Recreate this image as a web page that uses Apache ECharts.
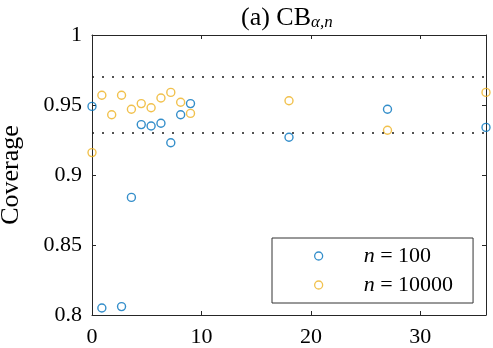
<!DOCTYPE html>
<html>
<head>
<meta charset="utf-8">
<style>
  html, body { margin: 0; padding: 0; background: #fff; }
  #chart { width: 493px; height: 348px; }
</style>
<script src="https://cdn.jsdelivr.net/npm/echarts@6/dist/echarts.min.js"></script>
</head>
<body>
<div id="chart"></div>
<script>
// n = 100
const x100 = [0, 0.9, 2.7, 3.6, 4.5, 5.4, 6.3, 7.2, 8.1, 9, 18, 27, 36];
const cov100 = [0.949, 0.805, 0.806, 0.884, 0.936, 0.935, 0.937, 0.923, 0.943, 0.951, 0.927, 0.947, 0.934];
// n = 10000
const x10000 = [0, 0.9, 1.8, 2.7, 3.6, 4.5, 5.4, 6.3, 7.2, 8.1, 9, 18, 27, 36];
const cov10000 = [0.916, 0.957, 0.943, 0.957, 0.947, 0.951, 0.948, 0.955, 0.959, 0.952, 0.944, 0.953, 0.932, 0.959];
// reference lines
const refLines = [0.97, 0.93];
const seriesNames = ['n = 100', 'n = 10000'];

const FONT = 'Liberation Serif';
const AXIS = '#262626';
const BLUE = '#0072BD';
const ORANGE = '#EDB120';

const zip = (xs, ys) => xs.map((x, i) => [x, ys[i]]);

const chart = echarts.init(document.getElementById('chart'));

const baseX = {
  type: 'value', min: 0, max: 36, interval: 10,
  splitLine: { show: false },
  axisLine: { show: true, onZero: false, lineStyle: { color: AXIS, width: 1 } },
  axisTick: { show: true, inside: true, length: 4, lineStyle: { color: AXIS } }
};
const baseY = {
  type: 'value', min: 0.8, max: 1, interval: 0.05,
  splitLine: { show: false },
  axisLine: { show: true, onZero: false, lineStyle: { color: AXIS, width: 1 } },
  axisTick: { show: true, inside: true, length: 4, lineStyle: { color: AXIS } }
};

function scatter(name, data, color, withLines) {
  const s = {
    name: name,
    type: 'scatter',
    data: data,
    symbol: 'circle',
    symbolSize: 8,
    clip: false,
    itemStyle: { color: 'rgba(0,0,0,0)', borderColor: color, borderWidth: 1.4 }
  };
  if (withLines) {
    s.markLine = {
      silent: true,
      symbol: 'none',
      label: { show: false },
      lineStyle: { color: '#1a1a1a', type: [2, 8], width: 1.6 },
      data: refLines.map(v => ({ yAxis: v }))
    };
  }
  return s;
}

chart.setOption({
  animation: false,
  textStyle: { fontFamily: FONT },
  title: {
    text: '{r|(a) CB}{s|α,n}',
    left: 236,
    top: 0,
    textStyle: {
      fontWeight: 'normal',
      rich: {
        r: { fontFamily: FONT, fontSize: 26, fontWeight: 'normal', color: '#000', verticalAlign: 'bottom', lineHeight: 26 },
        s: { fontFamily: FONT, fontSize: 17, fontWeight: 'normal', fontStyle: 'italic', color: '#000', verticalAlign: 'bottom', lineHeight: 20 }
      }
    }
  },
  grid: { left: 92, right: 7, top: 35, bottom: 33, containLabel: false, outerBoundsMode: 'none' },
  xAxis: [
    Object.assign({}, baseX, {
      position: 'bottom',
      axisLabel: {
        fontFamily: FONT, fontSize: 22, color: '#000', margin: 11,
        formatter: v => (v % 10 === 0 ? String(v) : '')
      }
    }),
    Object.assign({}, baseX, { position: 'top', axisLabel: { show: false } })
  ],
  yAxis: [
    Object.assign({}, baseY, {
      position: 'left',
      name: 'Coverage',
      nameLocation: 'middle',
      nameRotate: 90,
      nameGap: 68,
      nameTextStyle: { fontFamily: FONT, fontSize: 26, color: '#000' },
      axisLabel: {
        fontFamily: FONT, fontSize: 22, color: '#000', margin: 10,
        formatter: v => String(+v.toFixed(2))
      }
    }),
    Object.assign({}, baseY, { position: 'right', axisLabel: { show: false } })
  ],
  legend: {
    data: seriesNames,
    orient: 'vertical',
    left: 272,
    top: 238,
    padding: [7, 20, 7, 42],
    itemGap: 7,
    itemWidth: 8,
    itemHeight: 8,
    borderColor: '#333',
    borderWidth: 1,
    backgroundColor: '#fff',
    itemStyle: { borderWidth: 1.3 },
    formatter: name => '{i|n}{r| = ' + name.slice(4) + '}',
    textStyle: {
      padding: [0, 0, 0, 36],
      rich: {
        i: { fontFamily: FONT, fontSize: 22, fontStyle: 'italic', color: '#000', lineHeight: 22 },
        r: { fontFamily: FONT, fontSize: 22, color: '#000', lineHeight: 22 }
      }
    }
  },
  series: [
    scatter(seriesNames[0], zip(x100, cov100), BLUE, true),
    scatter(seriesNames[1], zip(x10000, cov10000), ORANGE, false)
  ]
});
</script>
</body>
</html>
